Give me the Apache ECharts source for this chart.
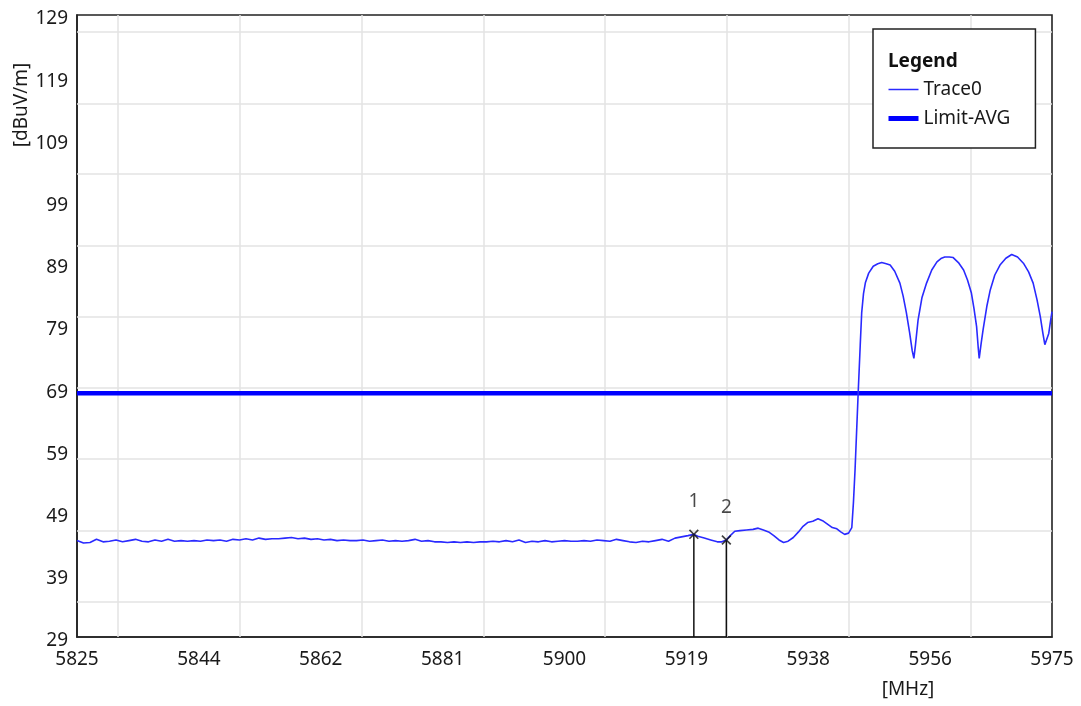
<!DOCTYPE html>
<html>
<head>
<meta charset="utf-8">
<title>Spectrum scan 5825-5975 MHz</title>
<script src="https://cdn.jsdelivr.net/npm/echarts@6/dist/echarts.min.js"></script>
<style>
  html, body { margin: 0; padding: 0; background: #ffffff; }
  #chart { width: 1081px; height: 706px; }
</style>
</head>
<body>
<div id="chart"></div>
<script>
// Measured trace: frequency (MHz) and field strength (dBuV/m)
const freqMHz = [
  5825, 5826, 5827, 5828, 5829, 5830, 5831, 5832, 5833, 5834,
  5835, 5836, 5837, 5838, 5839, 5840, 5841, 5842, 5843, 5844,
  5845, 5846, 5847, 5848, 5849, 5850, 5851, 5852, 5853, 5854,
  5855, 5856, 5857, 5858, 5859, 5860, 5861, 5862, 5863, 5864,
  5865, 5866, 5867, 5868, 5869, 5870, 5871, 5872, 5873, 5874,
  5875, 5876, 5877, 5878, 5879, 5880, 5881, 5882, 5883, 5884,
  5885, 5886, 5887, 5888, 5889, 5890, 5891, 5892, 5893, 5894,
  5895, 5896, 5897, 5898, 5899, 5900, 5901, 5902, 5903, 5904,
  5905, 5906, 5907, 5908, 5909, 5910, 5911, 5912, 5913, 5914,
  5915, 5916, 5917, 5918, 5919, 5919.9,
  5920.5, 5921.5, 5922.5, 5923.5, 5924.2, 5924.9, 5925.5, 5926.2, 5927, 5928,
  5929, 5929.8, 5930.6, 5931.4, 5932.2, 5933, 5933.7, 5934.4, 5935.2, 5936,
  5936.7, 5937.4, 5938.2, 5939, 5939.7, 5940.4, 5941.2, 5941.9, 5942.5, 5943.1,
  5943.7, 5944.2, 5944.45, 5944.7, 5944.95, 5945.2, 5945.5, 5945.72, 5946.0, 5946.3,
  5946.8, 5947.5, 5948.2, 5948.8, 5949.5, 5950.1, 5950.8, 5951.6, 5952.1, 5952.6,
  5953.1, 5953.5, 5953.75, 5954.0, 5954.4, 5955.0, 5955.7, 5956.5, 5957.3, 5958.0,
  5958.5, 5959.2, 5959.8, 5960.6, 5961.4, 5962.0, 5962.6, 5963.0, 5963.4, 5963.65,
  5963.8, 5964.1, 5964.4, 5965.0, 5965.5, 5966.2, 5967.0, 5967.9, 5968.8, 5969.7,
  5970.6, 5971.4, 5972.1, 5972.7, 5973.2, 5973.6, 5973.9, 5974.2, 5974.5, 5974.8,
  5975
];
const levelDb = [
  44.5, 44.1, 44.2, 44.7, 44.3, 44.4, 44.6, 44.3, 44.5, 44.7,
  44.4, 44.3, 44.6, 44.4, 44.7, 44.4, 44.5, 44.4, 44.5, 44.4,
  44.6, 44.5, 44.6, 44.4, 44.7, 44.6, 44.8, 44.6, 44.9, 44.7,
  44.8, 44.8, 44.9, 45.0, 44.8, 44.9, 44.7, 44.8, 44.6, 44.7,
  44.5, 44.6, 44.5, 44.5, 44.6, 44.4, 44.5, 44.6, 44.4, 44.5,
  44.4, 44.5, 44.7, 44.4, 44.5, 44.3, 44.3, 44.2, 44.3, 44.2,
  44.3, 44.2, 44.3, 44.3, 44.4, 44.3, 44.5, 44.3, 44.6, 44.2,
  44.4, 44.3, 44.5, 44.3, 44.4, 44.5, 44.4, 44.4, 44.5, 44.4,
  44.6, 44.5, 44.4, 44.7, 44.5, 44.3, 44.2, 44.4, 44.3, 44.5,
  44.7, 44.4, 44.9, 45.1, 45.3, 45.5,
  45.2, 44.9, 44.6, 44.3, 44.3, 44.6, 45.3, 46.0, 46.1, 46.2,
  46.3, 46.5, 46.2, 45.9, 45.3, 44.6, 44.2, 44.4, 45.0, 45.9,
  46.8, 47.4, 47.6, 48.0, 47.7, 47.2, 46.6, 46.4, 45.9, 45.5,
  45.7, 46.6, 50.6, 55.9, 62.3, 68.7, 76.0, 81.1, 84.2, 86.0,
  87.5, 88.6, 89.0, 89.2, 89.0, 88.8, 87.8, 85.9, 83.8, 81.1,
  77.9, 75.0, 73.8, 76.0, 80.0, 83.6, 85.9, 88.0, 89.3, 89.9,
  90.1, 90.1, 90.0, 89.2, 88.0, 86.4, 84.3, 81.8, 78.9, 75.5,
  73.8, 76.2, 78.4, 82.3, 84.8, 87.2, 88.8, 89.9, 90.5, 90.1,
  89.1, 87.7, 85.9, 83.2, 80.5, 77.8, 76.0, 76.3, 77.8, 80.0,
  81.3
];

// Average limit (dBuV/m)
const limitAvg = 68.2;

// Markers
const markerNames = ['1', '2'];
const markerFreq = [5919.9, 5924.9];
const markerLevel = [45.5, 44.6];

// Axis ranges and tick labels
const xMin = 5825, xMax = 5975, xStep = 18.75;
const xTickLabels = ['5825', '5844', '5862', '5881', '5900', '5919', '5938', '5956', '5975'];
const yMin = 29, yMax = 129, yStep = 10;

// Grid line positions
const gridX = [5831.25, 5850, 5868.75, 5887.5, 5906.25, 5925, 5943.75, 5962.5];
const gridY = [34.7, 46.15, 57.6, 69.0, 80.5, 91.9, 103.4, 114.8, 126.3];

const FONT = 'Noto Sans';
const TEXT = '#1a1a1a';
const TRACE_COLOR = '#2a2aff';
const LIMIT_COLOR = '#0000ff';

const chart = echarts.init(document.getElementById('chart'), null, { renderer: 'canvas' });

const traceData = freqMHz.map((f, i) => [f, levelDb[i]]);
const limitData = [[xMin, limitAvg], [xMax, limitAvg]];

const gridLineData = [
  ...gridX.map(v => ({ xAxis: v })),
  ...gridY.map(v => ({ yAxis: v }))
];

// Cross-shaped marker glyph
const crossPath = 'path://M0,1.2 L1.2,0 L5,3.8 L8.8,0 L10,1.2 L6.2,5 L10,8.8 L8.8,10 L5,6.2 L1.2,10 L0,8.8 L3.8,5 Z';

const stemSeries = markerFreq.map((f, i) => ({
  name: 'stem' + markerNames[i],
  type: 'line',
  data: [[f, yMin], [f, markerLevel[i]]],
  symbol: 'none',
  lineStyle: { color: '#111', width: 1.5 },
  z: 4,
  silent: true
}));

const option = {
  animation: false,
  backgroundColor: '#ffffff',
  textStyle: { fontFamily: FONT },
  grid: {
    left: 77, right: 29, top: 15, bottom: 69,
    show: true,
    borderColor: '#222',
    borderWidth: 1.6,
    backgroundColor: 'transparent'
  },
  xAxis: {
    type: 'value',
    min: xMin, max: xMax, interval: xStep,
    axisLine: { show: true, lineStyle: { color: '#222', width: 1.6 } },
    axisTick: { show: false },
    splitLine: { show: false },
    axisLabel: {
      color: TEXT, fontSize: 19, fontFamily: FONT, margin: 13,
      formatter: v => xTickLabels[Math.round((v - xMin) / xStep)]
    }
  },
  yAxis: {
    type: 'value',
    min: yMin, max: yMax, interval: yStep,
    axisLine: { show: true, lineStyle: { color: '#222', width: 1.6 } },
    axisTick: { show: false },
    splitLine: { show: false },
    axisLabel: {
      color: TEXT, fontSize: 19, fontFamily: FONT, margin: 9,
      verticalAlign: 'top', lineHeight: 8
    }
  },
  legend: {
    data: [
      { name: 'Trace0', lineStyle: { color: TRACE_COLOR, width: 1.5 } },
      { name: 'Limit-AVG', lineStyle: { color: LIMIT_COLOR, width: 5 } }
    ],
    orient: 'vertical',
    left: 873, top: 29,
    padding: [51, 25, 20, 13],
    itemWidth: 30, itemHeight: 14, itemGap: 10,
    backgroundColor: '#ffffff',
    borderColor: '#222', borderWidth: 1.5,
    selectedMode: false,
    itemStyle: { opacity: 0 },
    textStyle: { color: TEXT, fontSize: 19, fontFamily: FONT }
  },
  graphic: [
    {
      type: 'text', z: 100,
      x: 888, y: 62,
      style: { text: 'Legend', font: 'bold 19px "Noto Sans"', fill: '#111', textAlign: 'left', textVerticalAlign: 'middle' }
    },
    {
      type: 'text', z: 100,
      x: 22, y: 105, rotation: Math.PI / 2,
      style: { text: '[dBuV/m]', font: '19px "Noto Sans"', fill: TEXT, textAlign: 'center', textVerticalAlign: 'middle' }
    },
    {
      type: 'text', z: 100,
      x: 908, y: 690,
      style: { text: '[MHz]', font: '19px "Noto Sans"', fill: TEXT, textAlign: 'center', textVerticalAlign: 'middle' }
    }
  ],
  series: [
    {
      name: 'gridlines',
      type: 'line',
      data: [],
      silent: true,
      markLine: {
        silent: true,
        z: 1,
        symbol: ['none', 'none'],
        label: { show: false },
        lineStyle: { color: '#e3e3e3', width: 1.5, type: 'solid' },
        emphasis: { disabled: true },
        data: gridLineData
      }
    },
    {
      name: 'Limit-AVG',
      type: 'line',
      data: limitData,
      symbol: 'none',
      lineStyle: { color: LIMIT_COLOR, width: 4.5 },
      itemStyle: { color: LIMIT_COLOR },
      z: 3,
      silent: true
    },
    {
      name: 'Trace0',
      type: 'line',
      data: traceData,
      symbol: 'none',
      lineStyle: { color: TRACE_COLOR, width: 1.6 },
      itemStyle: { color: TRACE_COLOR },
      z: 5,
      silent: true
    },
    ...stemSeries,
    {
      name: 'markers',
      type: 'scatter',
      data: markerFreq.map((f, i) => ({ value: [f, markerLevel[i]], name: markerNames[i] })),
      symbol: crossPath,
      symbolSize: 10,
      itemStyle: { color: '#111' },
      z: 6,
      silent: true,
      label: {
        show: true,
        position: 'top',
        distance: 18,
        formatter: p => p.name,
        color: TEXT, fontSize: 19, fontFamily: FONT
      }
    }
  ]
};

chart.setOption(option);
</script>
</body>
</html>
